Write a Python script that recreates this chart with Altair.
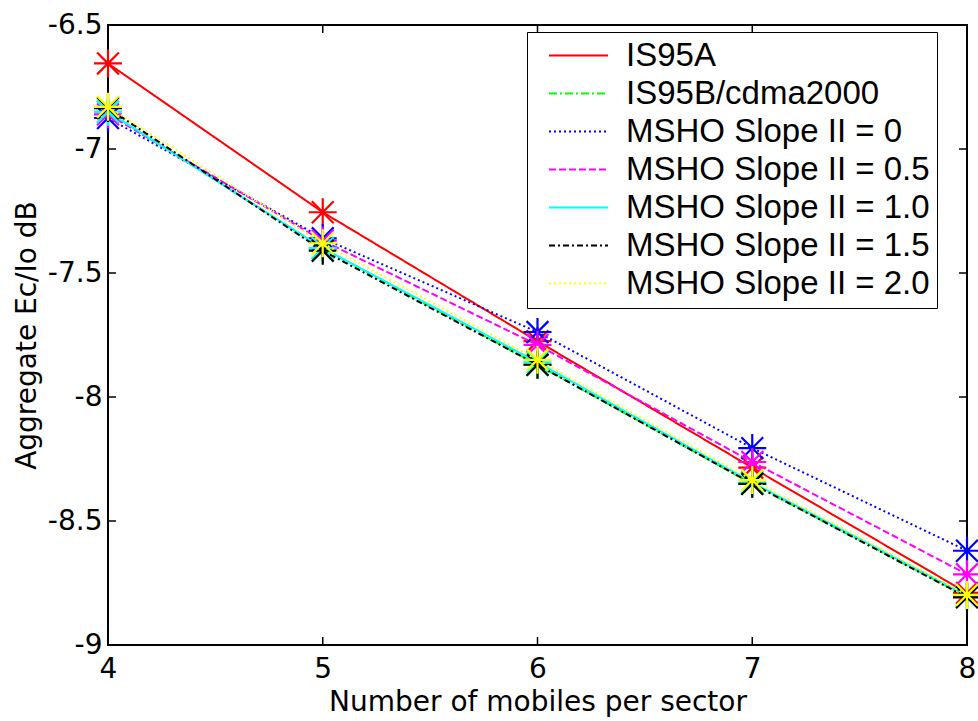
import altair as alt
import pandas as pd

# ---------------- data ----------------
series = ["IS95A", "IS95B/cdma2000", "MSHO Slope II = 0", "MSHO Slope II = 0.5",
          "MSHO Slope II = 1.0", "MSHO Slope II = 1.5", "MSHO Slope II = 2.0"]
mobiles = [4, 5, 6, 7, 8]
is95a = [-6.655, -7.255, -7.775, -8.285, -8.790]
is95b = [-6.850, -7.400, -7.870, -8.350, -8.805]
msho_0 = [-6.875, -7.360, -7.738, -8.206, -8.620]
msho_05 = [-6.860, -7.370, -7.790, -8.262, -8.715]
msho_10 = [-6.850, -7.400, -7.860, -8.345, -8.800]
msho_15 = [-6.835, -7.410, -7.870, -8.350, -8.808]
msho_20 = [-6.830, -7.380, -7.850, -8.335, -8.798]
values = [is95a, is95b, msho_0, msho_05, msho_10, msho_15, msho_20]

colors = ["#ff0000", "#00ff00", "#0000ff", "#ff00ff", "#00ffff", "#000000", "#ffff00"]
dashes = [[1, 0], [8, 3, 2, 3], [2, 3], [7, 3], [1, 0], [6, 3, 2, 3], [2, 3]]

x_ticks = [4, 5, 6, 7, 8]
y_ticks = [-9, -8.5, -8, -7.5, -7, -6.5]

rows = []
for s, vals in zip(series, values):
    for xv, yv in zip(mobiles, vals):
        rows.append({"series": s, "x": xv, "y": yv})
df = pd.DataFrame(rows)
xt = pd.DataFrame({"x": x_ticks})
yt = pd.DataFrame({"y": y_ticks})

W, H = 859, 620
AX_FONT = "DejaVu Sans"
AX_SIZE = 28

xscale = alt.Scale(domain=[4, 8], nice=False, zero=False)
yscale = alt.Scale(domain=[-9, -6.5], nice=False, zero=False)
xaxis = alt.Axis(values=x_ticks, format="d", ticks=False, domain=False, grid=False,
                 labelFont=AX_FONT, labelFontSize=AX_SIZE, labelColor="black",
                 labelPadding=10, labelFlush=False, labelOverlap=False,
                 title="Number of mobiles per sector", titleFont=AX_FONT,
                 titleFontSize=AX_SIZE, titleFontWeight="normal", titleColor="black",
                 titlePadding=5)
yaxis = alt.Axis(values=y_ticks, labelExpr="toString(datum.value)", ticks=False,
                 domain=False, grid=False, labelFont=AX_FONT, labelFontSize=AX_SIZE,
                 labelColor="black", labelPadding=6, labelFlush=False, labelOverlap=False,
                 title="Aggregate Ec/Io dB", titleFont=AX_FONT, titleFontSize=AX_SIZE,
                 titleFontWeight="normal", titleColor="black", titlePadding=6)

X = alt.X("x:Q", scale=xscale, axis=xaxis)
Y = alt.Y("y:Q", scale=yscale, axis=yaxis)

legend = alt.Legend(title=None, orient="none", legendX=419, legendY=7,
                    symbolType="M-2,0L2,0", symbolSize=870, symbolStrokeWidth=2,
                    symbolOffset=28, labelOffset=31,
                    labelFont="Liberation Sans", labelFontSize=33, labelColor="black",
                    labelLimit=600, padding=7, rowPadding=4,
                    fillColor="white", strokeColor="black")
color = alt.Color("series:N", scale=alt.Scale(domain=series, range=colors), legend=legend)
dash = alt.StrokeDash("series:N", scale=alt.Scale(domain=series, range=dashes), legend=legend)
color_nolegend = alt.Color("series:N", scale=alt.Scale(domain=series, range=colors), legend=None)

ASTERISK = "M-1,0L1,0M0,-1L0,1M-0.78,-0.78L0.78,0.78M-0.78,0.78L0.78,-0.78"

base = alt.Chart(df)
layers = []

# inward ticks (MATLAB style box)
tick_x = alt.Chart(xt)
tick_y = alt.Chart(yt)
layers.append(tick_x.mark_rule(color="black", strokeWidth=1.5).encode(
    x=X, y=alt.value(H), y2=alt.value(H - 8)))
layers.append(tick_x.mark_rule(color="black", strokeWidth=1.5).encode(
    x=X, y=alt.value(0), y2=alt.value(8)))
layers.append(tick_y.mark_rule(color="black", strokeWidth=1.5).encode(
    y=Y, x=alt.value(0), x2=alt.value(8)))
layers.append(tick_y.mark_rule(color="black", strokeWidth=1.5).encode(
    y=Y, x=alt.value(W), x2=alt.value(W - 8)))

for s in series:
    sub = base.transform_filter(alt.datum.series == s)
    layers.append(sub.mark_line(strokeWidth=2).encode(x=X, y=Y, color=color, strokeDash=dash))
    layers.append(sub.mark_point(shape=ASTERISK, filled=False, size=784, strokeWidth=2.2,
                                 opacity=1).encode(x=X, y=Y, color=color_nolegend))

chart = alt.layer(*layers).properties(
    width=W, height=H,
    autosize=alt.AutoSizeParams(type="none"),
    padding={"left": 108, "top": 25, "right": 11, "bottom": 76},
    background="white",
).configure_view(stroke="black", strokeWidth=2)

chart.save("out.html", embed_options={"renderer": "svg", "actions": False})
